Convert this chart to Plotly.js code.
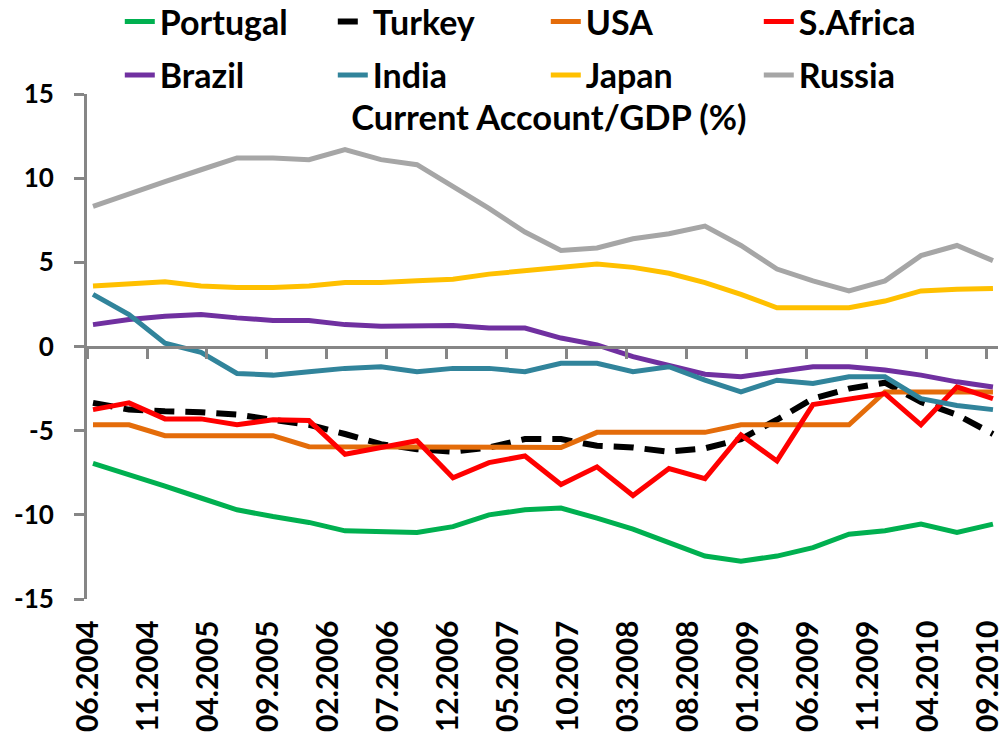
<!DOCTYPE html>
<html>
<head>
<meta charset="utf-8">
<script src="https://cdn.plot.ly/plotly-3.0.1.min.js"></script>
<style>html,body{margin:0;padding:0;background:#fff;}#chart{width:1003px;height:737px;}</style>
</head>
<body>
<div id="chart"></div>
<script>
// Quarterly observation dates (categories)
const quarters = ["06.2004","09.2004","12.2004","03.2005","06.2005","09.2005","12.2005","03.2006","06.2006","09.2006","12.2006","03.2007","06.2007","09.2007","12.2007","03.2008","06.2008","09.2008","12.2008","03.2009","06.2009","09.2009","12.2009","03.2010","06.2010","09.2010"];

// Axis tick labels (every 5 months)
const tickLabels = ["06.2004","11.2004","04.2005","09.2005","02.2006","07.2006","12.2006","05.2007","10.2007","03.2008","08.2008","01.2009","06.2009","11.2009","04.2010","09.2010"];

// Current account / GDP (%) series
const portugal = [-6.95,-7.6,-8.3,-9.0,-9.7,-10.1,-10.45,-10.95,-11.0,-11.05,-10.7,-10.0,-9.7,-9.6,-10.2,-10.85,-11.65,-12.45,-12.75,-12.45,-11.95,-11.15,-10.95,-10.55,-11.05,-10.55];
const turkey   = [-3.35,-3.75,-3.85,-3.9,-4.05,-4.35,-4.65,-5.2,-5.8,-6.1,-6.25,-6.0,-5.5,-5.5,-5.9,-6.0,-6.25,-6.05,-5.5,-4.35,-3.1,-2.5,-2.15,-3.3,-4.05,-5.2];
const usa      = [-4.65,-4.65,-5.3,-5.3,-5.3,-5.3,-5.95,-5.95,-5.95,-5.95,-5.95,-5.95,-5.95,-6.0,-5.1,-5.1,-5.1,-5.1,-4.65,-4.65,-4.65,-4.65,-2.7,-2.7,-2.7,-2.7];
const safrica  = [-3.75,-3.35,-4.3,-4.3,-4.65,-4.35,-4.4,-6.4,-6.0,-5.6,-7.8,-6.9,-6.5,-8.2,-7.15,-8.85,-7.25,-7.85,-5.25,-6.8,-3.45,-3.1,-2.8,-4.65,-2.4,-3.1];
const brazil   = [1.3,1.6,1.8,1.9,1.7,1.55,1.55,1.3,1.2,1.25,1.25,1.1,1.1,0.5,0.1,-0.6,-1.1,-1.65,-1.8,-1.5,-1.2,-1.2,-1.4,-1.7,-2.1,-2.4];
const india    = [3.1,1.9,0.2,-0.35,-1.6,-1.7,-1.5,-1.3,-1.2,-1.5,-1.3,-1.3,-1.5,-1.0,-1.0,-1.5,-1.2,-2.0,-2.7,-2.0,-2.2,-1.8,-1.8,-3.1,-3.5,-3.75];
const japan    = [3.6,3.7,3.85,3.6,3.5,3.5,3.6,3.8,3.8,3.9,4.0,4.3,4.5,4.7,4.9,4.7,4.35,3.8,3.1,2.3,2.3,2.3,2.7,3.3,3.4,3.45];
const russia   = [8.33,9.1,9.8,10.5,11.2,11.2,11.1,11.7,11.1,10.8,9.5,8.2,6.8,5.7,5.85,6.4,6.7,7.15,6.0,4.6,3.9,3.3,3.9,5.4,6.0,5.1];

const names  = ["Portugal","Turkey","USA","S.Africa","Brazil","India","Japan","Russia"];
const series = [portugal,turkey,usa,safrica,brazil,india,japan,russia];
const colors = ["#00B050","#000000","#E46C0A","#FF0000","#7030A0","#31849B","#FFC000","#A6A6A6"];

// full monthly category list: each month is one slot on the axis
const allMonths = [];
for (let y = 2004, m = 6; y < 2010 || (y === 2010 && m <= 9); ) {
  allMonths.push(String(m).padStart(2,"0") + "." + y);
  m++; if (m > 12) { m = 1; y++; }
}
const slot = label => allMonths.indexOf(label);   // category -> slot index
const xPos = quarters.map(slot);
// tick marks sit on the boundary before each labelled month (as in the source chart)
const tickPos = tickLabels.map(l => slot(l) - 0.5);

const FONT = "Lato, 'Open Sans', 'Liberation Sans', sans-serif";

const traces = names.map((n, i) => ({
  type: "scatter",
  mode: "lines",
  name: n,
  x: xPos,
  y: series[i],
  text: quarters,
  legend: i < 4 ? "legend" : "legend2",
  line: {color: colors[i], width: n === "Turkey" ? 6 : 5, dash: n === "Turkey" ? "20px,11px" : "solid"},
  hovertemplate: "%{text}: %{y}<extra>" + n + "</extra>"
}));

const legendBase = {
  orientation: "h",
  xanchor: "left",
  yanchor: "middle",
  x: 0.036,
  entrywidth: 168,
  entrywidthmode: "pixels",
  bgcolor: "rgba(0,0,0,0)",
  font: {family: FONT, size: 34, weight: 700, color: "#000"},
  traceorder: "normal"
};

const layout = {
  width: 1003,
  height: 737,
  paper_bgcolor: "#fff",
  plot_bgcolor: "#fff",
  margin: {l: 87, r: 5, t: 94, b: 138, autoexpand: false},
  showlegend: true,
  legend: Object.assign({}, legendBase, {y: 1.143}),
  legend2: Object.assign({}, legendBase, {y: 1.037}),
  title: {
    text: "Current Account/GDP (%)",
    font: {family: FONT, size: 34.5, weight: 700, color: "#000"},
    xref: "paper", x: 0.507, xanchor: "center",
    yref: "container", y: 1 - 118/737, yanchor: "middle"
  },
  xaxis: {
    type: "linear",
    range: [-0.5, 75.42],
    anchor: "free",
    position: 0.5,
    showline: true,
    linecolor: "#868686",
    linewidth: 3,
    showgrid: false,
    zeroline: false,
    ticks: "outside",
    ticklen: 10,
    tickwidth: 3,
    tickcolor: "#868686",
    tickmode: "array",
    tickvals: tickPos,
    ticktext: tickLabels,
    tickangle: -90,
    ticklabelstandoff: 250,
    ticklabelshift: 1,
    ticklabeloverflow: "allow",
    tickfont: {family: FONT, size: 30, weight: 700, color: "#000"},
    automargin: false,
    fixedrange: true
  },
  yaxis: {
    range: [-15, 15],
    tickvals: [-15,-10,-5,0,5,10,15],
    ticktext: ["-15","-10","-5","0","5","10","15"],
    showline: true,
    linecolor: "#868686",
    linewidth: 3,
    showgrid: false,
    zeroline: false,
    ticks: "outside",
    ticklen: 10,
    tickwidth: 3,
    tickcolor: "#868686",
    ticklabelstandoff: 15,
    tickfont: {family: FONT, size: 26, weight: 700, color: "#000"},
    automargin: false,
    fixedrange: true
  }
};

Plotly.newPlot("chart", traces, layout, {displayModeBar: false, responsive: false});
</script>
</body>
</html>
